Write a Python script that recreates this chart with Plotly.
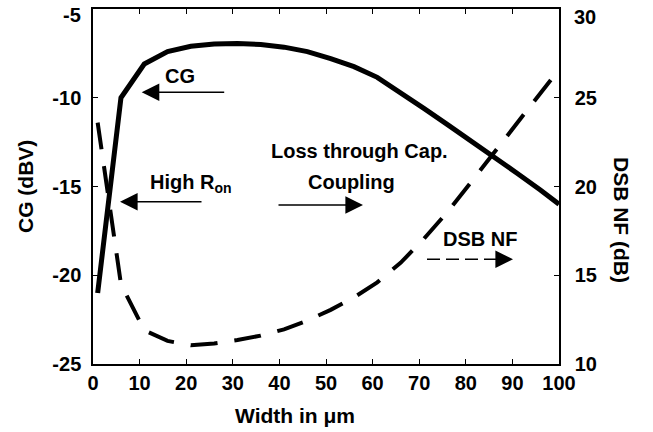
import plotly.graph_objects as go

# ---- data ----
width_um = [1, 6, 11, 16, 21, 26, 31, 36, 41, 46, 51, 56, 61, 66, 71, 76, 81, 86, 91, 96, 100]
cg_dbv = [-21.0, -10.0, -8.1, -7.4, -7.1, -6.97, -6.95, -7.0, -7.15, -7.4, -7.8, -8.25,
          -8.85, -9.7, -10.6, -11.5, -12.4, -13.3, -14.25, -15.2, -16.0]
nf_db = [23.6, 14.5, 11.9, 11.3, 11.05, 11.15, 11.35, 11.6, 11.95, 12.45, 13.05, 13.75,
         14.6, 15.7, 17.05, 18.55, 20.2, 21.9, 23.6, 25.3, 26.6]
x_ticks = [0, 10, 20, 30, 40, 50, 60, 70, 80, 90, 100]
cg_ticks = [-25, -20, -15, -10, -5]
cg_tick_text = ["-25", "-20", "-15", "-10", ""]   # top label "-5" placed below as text
nf_ticks = [10, 15, 20, 25, 30]
nf_tick_text = ["10", "15", "20", "25", ""]        # top label "30" placed below as text

W, H = 653, 432
L, R, T, B = 93, 94, 9, 68
FONT = "Liberation Sans, Arial, sans-serif"


def px(xp):
    return (xp - L) / (W - L - R)


def py(yp):
    return (H - B - yp) / (H - T - B)


fig = go.Figure()
fig.add_trace(go.Scatter(x=width_um, y=cg_dbv, mode="lines", name="CG",
                         line=dict(color="black", width=5), yaxis="y"))
fig.add_trace(go.Scatter(x=width_um, y=nf_db, mode="lines", name="DSB NF",
                         line=dict(color="black", width=4, dash="27px,17px"), yaxis="y2"))

tickfont = dict(family=FONT, size=20, color="black", weight="bold")
common = dict(ticks="inside", ticklen=5, tickcolor="black", showline=True, linecolor="black",
              linewidth=1.5, showgrid=False, zeroline=False, tickfont=tickfont,
              automargin=False, ticklabeloverflow="allow")
fig.update_layout(
    width=W, height=H, margin=dict(l=L, r=R, t=T, b=B),
    paper_bgcolor="white", plot_bgcolor="white", showlegend=False,
    xaxis=dict(common, range=[0, 100], tickvals=x_ticks, mirror="ticks", ticklabelstandoff=0),
    yaxis=dict(common, range=[-25, -5], tickvals=cg_ticks, ticktext=cg_tick_text,
               ticklabelstandoff=6),
    yaxis2=dict(common, range=[10, 30], tickvals=nf_ticks, ticktext=nf_tick_text,
                side="right", overlaying="y", anchor="x", ticklabelstandoff=10),
)

tfont = dict(family=FONT, size=20, color="black", weight="bold")
base = dict(xref="paper", yref="paper", xanchor="center", yanchor="middle", showarrow=False)
ann = []
# top tick labels, nudged down like the reference
ann.append(dict(base, text=str(cg_ticks[-1]), x=px(83), y=py(15), xanchor="right", font=tfont))
ann.append(dict(base, text=str(nf_ticks[-1]), x=px(572), y=py(17), xanchor="left", font=tfont))
# axis titles
ann.append(dict(base, text="CG (dBV)", x=px(25), y=py(187), textangle=-90,
                font=dict(tfont, size=21)))
ann.append(dict(base, text="DSB NF (dB)", x=px(622), y=py(220), textangle=90,
                font=dict(tfont, size=21)))
ann.append(dict(base, text="Width in μm", x=px(295), y=py(415), font=dict(tfont, size=21)))
# labels
ann.append(dict(base, text="CG", x=px(180), y=py(76), font=tfont))
ann.append(dict(base, text="High R<sub>on</sub>", x=px(191), y=py(183), font=tfont))
ann.append(dict(base, text="Loss through Cap.", x=px(359.5), y=py(150.5), font=tfont))
ann.append(dict(base, text="Coupling", x=px(351.7), y=py(182), font=tfont))
ann.append(dict(base, text="DSB NF", x=px(480), y=py(239), font=tfont))
# arrows
arrow = dict(text="", showarrow=True, arrowhead=2, arrowsize=2.2, arrowwidth=1.6,
             arrowcolor="black", xref="paper", yref="paper", axref="pixel", ayref="pixel")
ann.append(dict(arrow, x=px(141.7), y=py(92.3), ax=84, ay=0))
ann.append(dict(arrow, x=px(120), y=py(201.7), ax=83, ay=0))
ann.append(dict(arrow, x=px(363), y=py(205), ax=-86, ay=0))
ann.append(dict(arrow, x=px(513), y=py(259.3), ax=-14, ay=0))
fig.update_layout(annotations=ann)

fig.add_shape(type="line", xref="paper", yref="paper", x0=px(427), x1=px(500),
              y0=py(259.3), y1=py(259.3), line=dict(color="black", width=1.6, dash="13px,6px"))

fig.write_html("out.html")
